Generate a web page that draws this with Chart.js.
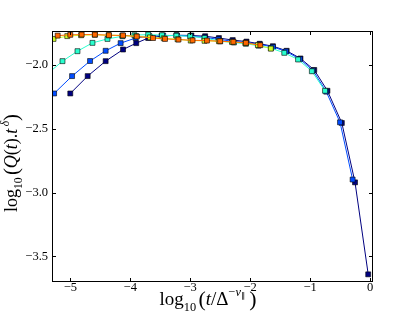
<!DOCTYPE html>
<html>
<head>
<meta charset="utf-8">
<script src="https://cdn.jsdelivr.net/npm/chart.js@4/dist/chart.umd.min.js"></script>
<style>
html,body{margin:0;padding:0;background:#fff;}
canvas{display:block;}
</style>
</head>
<body>
<canvas id="c" width="415" height="313"></canvas>
<script>
/* ===== data ===== */
const navyX=[-5.00,-4.71,-4.41,-4.12,-3.90,-3.70,-3.48,-3.23,-2.98,-2.75,-2.52,-2.29,-2.06,-1.84,-1.62,-1.39,-1.16,-0.93,-0.71,-0.47,-0.25,-0.03];
const navyY=[-2.224,-2.088,-1.971,-1.880,-1.830,-1.790,-1.775,-1.768,-1.770,-1.776,-1.790,-1.806,-1.818,-1.835,-1.854,-1.890,-1.950,-2.040,-2.203,-2.455,-2.920,-3.640];
const blueX=[-5.27,-4.97,-4.67,-4.41,-4.16,-3.91,-3.68,-3.45,-3.22,-2.99,-2.76,-2.53,-2.30,-2.07,-1.84,-1.62,-1.40,-1.17,-0.95,-0.73,-0.50,-0.29];
const blueY=[-2.224,-2.088,-1.970,-1.890,-1.830,-1.790,-1.775,-1.770,-1.770,-1.775,-1.785,-1.800,-1.815,-1.825,-1.840,-1.860,-1.895,-1.955,-2.045,-2.210,-2.450,-2.898];
const cyanX=[-5.38,-5.13,-4.88,-4.63,-4.38,-4.13,-3.93,-3.70,-3.47,-3.23,-3.00,-2.76,-2.50,-2.27,-2.07,-1.86,-1.65,-1.43,-1.20,-0.97,-0.75];
const cyanY=[-2.070,-1.971,-1.893,-1.828,-1.797,-1.776,-1.768,-1.763,-1.768,-1.772,-1.776,-1.790,-1.815,-1.825,-1.835,-1.850,-1.870,-1.906,-1.958,-2.050,-2.203];
const yellowX=[-5.28,-5.05,-4.82,-4.59,-4.36,-4.13,-3.90,-3.67,-3.44,-3.21,-2.99,-2.76,-2.52,-2.30,-2.08,-1.87,-1.655];
const yellowY=[-1.797,-1.775,-1.768,-1.765,-1.768,-1.770,-1.776,-1.785,-1.792,-1.800,-1.810,-1.812,-1.815,-1.822,-1.830,-1.845,-1.873];
const orangeX=[-5.21,-5.00,-4.81,-4.59,-4.355,-4.12,-3.89,-3.62,-3.42,-3.195,-2.96,-2.72,-2.50,-2.28,-2.07,-1.83];
const orangeY=[-1.771,-1.765,-1.763,-1.763,-1.768,-1.770,-1.778,-1.790,-1.797,-1.802,-1.808,-1.810,-1.815,-1.820,-1.828,-1.846];
const xTicks=[-5,-4,-3,-2,-1,0];
const yTicks=[-3.5,-3.0,-2.5,-2.0];

/* ===== helpers ===== */
const pts=(xs,ys)=>xs.map((x,i)=>({x,y:ys[i]}));
const neg=s=>s.replace('-','\u2212');
const ds=(label,xs,ys,col)=>({label,data:pts(xs,ys),borderColor:col,backgroundColor:col,
  pointBackgroundColor:col,pointBorderColor:'#000',pointBorderWidth:0.6,pointStyle:'rect',
  pointRadius:3.5,borderWidth:1,tension:0,fill:false});

/* math-ish titles: [text, scale, italic, dy] */
const SERIF='"Liberation Serif","DejaVu Serif",serif';
function drawMath(ctx,parts,cx,cy,rot,base){
  ctx.save();ctx.fillStyle='#000';ctx.textBaseline='alphabetic';
  let w=0;
  parts.forEach(p=>{ctx.font=`${p[2]?'italic ':''}${base*p[1]}px ${SERIF}`;w+=ctx.measureText(p[0]).width;});
  ctx.translate(cx,cy);ctx.rotate(rot);
  let x=-w/2;
  parts.forEach(p=>{ctx.font=`${p[2]?'italic ':''}${base*p[1]}px ${SERIF}`;
    ctx.fillText(p[0],x,p[3]*base);x+=ctx.measureText(p[0]).width;});
  ctx.restore();
}
const yTitle=[['log',1,0,0],['10',0.65,0,0.3],[' ',0.5,0,0],['(',1.15,0,0.04],['Q',1,1,0],['(',1,0,0],['t',1,1,0],[')',1,0,0],['.',1,0,0],['t',1,1,0],['\u2009\u03b4',0.65,1,-0.45],[')',1.15,0,0.04]];
const xTitle=[['log',1,0,0],['10',0.65,0,0.3],[' ',0.5,0,0],['(',1.15,0,0.04],['t',1,1,0],['/',1,0,0],['\u0394',1,0,0],['\u2212',0.65,0,-0.45],['\u03bd',0.65,1,-0.45],['\u2225',0.45,0,-0.33],['\u2009)',1.15,0,0.04]];

const frame={id:'frame',afterDraw(c){
  const {ctx,chartArea:a,scales:{x,y}}=c,L=4;
  ctx.save();ctx.strokeStyle='#000';ctx.lineWidth=1;
  ctx.strokeRect(a.left+0.5,a.top+0.5,a.right-a.left-1,a.bottom-a.top-1);
  ctx.beginPath();
  xTicks.forEach(v=>{const p=Math.round(x.getPixelForValue(v))+0.5;
    ctx.moveTo(p,a.bottom);ctx.lineTo(p,a.bottom-L);ctx.moveTo(p,a.top);ctx.lineTo(p,a.top+L);});
  yTicks.forEach(v=>{const p=Math.round(y.getPixelForValue(v))+0.5;
    ctx.moveTo(a.left,p);ctx.lineTo(a.left+L,p);ctx.moveTo(a.right,p);ctx.lineTo(a.right-L,p);});
  ctx.stroke();ctx.restore();
  drawMath(ctx,yTitle,17,163,-Math.PI/2,18);
  drawMath(ctx,xTitle,208,305,0,19);
}};

/* ===== chart ===== */
new Chart(document.getElementById('c'),{type:'line',
  data:{datasets:[
    ds('orange',orangeX,orangeY,'#ff6800'),
    ds('yellow',yellowX,yellowY,'#ceff29'),
    ds('cyan',cyanX,cyanY,'#29ffce'),
    ds('blue',blueX,blueY,'#004cff'),
    ds('navy',navyX,navyY,'#000080')]},
  options:{responsive:false,animation:false,devicePixelRatio:1,
    layout:{padding:{top:31,right:42,left:0,bottom:0}},
    plugins:{legend:{display:false},tooltip:{enabled:false}},
    scales:{
      x:{type:'linear',min:-5.305,max:0.05,grid:{display:false,drawTicks:false},border:{display:false},
        afterBuildTicks:s=>{s.ticks=xTicks.map(v=>({value:v}));},
        afterFit:s=>{s.height=31;},
        ticks:{padding:-2,autoSkip:false,maxRotation:0,color:'#000',font:{family:SERIF,size:12.5},callback:v=>neg(String(v))}},
      y:{type:'linear',min:-3.70,max:-1.735,grid:{display:false,drawTicks:false},border:{display:false},
        afterBuildTicks:s=>{s.ticks=yTicks.map(v=>({value:v}));},
        afterFit:s=>{s.width=52;},
        ticks:{padding:4,autoSkip:false,color:'#000',font:{family:SERIF,size:12.5},callback:v=>neg(v.toFixed(1))}}
    }},
  plugins:[frame]});
</script>
</body>
</html>
